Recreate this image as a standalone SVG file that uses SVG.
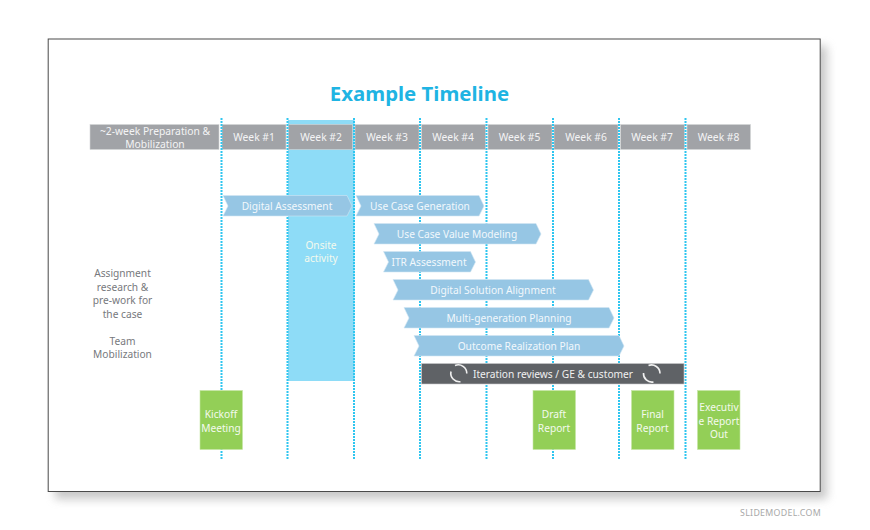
<svg xmlns="http://www.w3.org/2000/svg" width="870" height="530" viewBox="0 0 870 530">
<style>
text{font-family:"Noto Sans","Open Sans","Liberation Sans",sans-serif;text-anchor:middle}
.hd{fill:#a1a3a7;stroke:#d4d5d7;stroke-width:.6}
.hdt{fill:#f4f4f5;font-size:10.3px}
.ar{fill:#96c6e4;stroke:#d2e6f4;stroke-width:.6}
.art{fill:#f2f8fc;font-size:10.2px}
.gr{fill:#93cf57;stroke:#c6e6a6;stroke-width:.6}
.grt{fill:#f4faee;font-size:10.2px}
.side{fill:#77797d;font-size:10.2px}
.dot{stroke:#2fc6f0;stroke-width:2;stroke-dasharray:2 1}
.cyc{fill:none;stroke:#f0f0f0;stroke-width:1.6}
</style>
<defs><filter id="blur" x="-10%" y="-10%" width="120%" height="120%"><feGaussianBlur stdDeviation="5"/></filter></defs>
<rect width="870" height="530" fill="#fff"/>
<rect x="55" y="46" width="772" height="453" fill="#9a9a9a" opacity=".55" filter="url(#blur)"/>
<rect id="frame" x="48.200" y="39" width="772" height="452.500" fill="#fff" stroke="#4a4a4a" stroke-width="1"/>
<text id="title" x="419.500" y="101" font-size="20.400" font-weight="700" fill="#1fb4e3">Example Timeline</text>

<g id="onsite"><rect x="288" y="120" width="66.500" height="261" fill="#8edcf7"/><text class="grt" x="321" y="248.500">Onsite</text><text class="grt" x="321" y="262">activity</text></g>

<g id="headers">
<g id="h0"><rect class="hd" x="90" y="124.500" width="129" height="25"/><text class="hdt" x="155" y="134.500">~2-week Preparation &amp;</text><text class="hdt" x="155" y="147.500">Mobilization</text></g>
<g id="h1"><rect class="hd" x="222" y="124.500" width="64" height="25"/><text class="hdt" x="254" y="141">Week #1</text></g>
<g id="h2"><rect class="hd" x="288.500" y="124.500" width="64" height="25"/><text class="hdt" x="321" y="141">Week #2</text></g>
<g id="h3"><rect class="hd" x="355" y="124.500" width="64" height="25"/><text class="hdt" x="387" y="141">Week #3</text></g>
<g id="h4"><rect class="hd" x="421.500" y="124.500" width="64" height="25"/><text class="hdt" x="453" y="141">Week #4</text></g>
<g id="h5"><rect class="hd" x="488" y="124.500" width="64" height="25"/><text class="hdt" x="519.500" y="141">Week #5</text></g>
<g id="h6"><rect class="hd" x="554" y="124.500" width="64" height="25"/><text class="hdt" x="586" y="141">Week #6</text></g>
<g id="h7"><rect class="hd" x="620.500" y="124.500" width="64" height="25"/><text class="hdt" x="652" y="141">Week #7</text></g>
<g id="h8"><rect class="hd" x="687" y="124.500" width="63.500" height="25"/><text class="hdt" x="718.500" y="141">Week #8</text></g>
</g>

<g id="connectors">
<path class="dot" d="M221.500 118V459M287.500 118V459M354 118V459M420 118V459M486.500 118V459M553 118V459M619 118V459M685.500 118V459"/>
</g>

<g id="bars">
<g id="b1"><path class="ar" d="M223 195.500H347L352 206L347 216H223L228 206Z"/><text class="art" x="287" y="210">Digital Assessment</text></g>
<g id="b2"><path class="ar" d="M356 195.500H479L484 206L479 216H356L361 206Z"/><text class="art" x="420" y="210">Use Case Generation</text></g>
<g id="b3"><path class="ar" d="M374 223.500H536L541 234L536 244H374L379 234Z"/><text class="art" x="457" y="238">Use Case Value Modeling</text></g>
<g id="b4"><path class="ar" d="M383.500 251.500H470.500L475.500 262L470.500 272H383.500L388.500 262Z"/><text class="art" x="429" y="266">ITR Assessment</text></g>
<g id="b5"><path class="ar" d="M393 279.500H588.500L593.500 290L588.500 300H393L398 290Z"/><text class="art" x="493" y="294">Digital Solution Alignment</text></g>
<g id="b6"><path class="ar" d="M404 307.500H609L614 318L609 328H404L409 318Z"/><text class="art" x="509" y="322">Multi-generation Planning</text></g>
<g id="b7"><path class="ar" d="M414 335.500H619L624 346L619 356H414L419 346Z"/><text class="art" x="519" y="350">Outcome Realization Plan</text></g>
<g id="b8"><rect x="421.500" y="363.500" width="262.500" height="20.500" fill="#5f6266" stroke="#c9cacc" stroke-width=".6"/><text x="553" y="378" font-size="10.200" fill="#f0f0f0">Iteration reviews / GE &amp; customer</text>
<path class="cyc" d="M455 365.500A8.500 8.500 0 0 1 466.800 373.500M451 371.500A8.500 8.500 0 0 0 460.500 381.700"/>
<path class="cyc" d="M648.500 365.500A8.500 8.500 0 0 1 660 373.500M643.500 373A8.500 8.500 0 0 0 653.500 382"/></g>
</g>

<g id="side">
<text class="side" x="122.500" y="277">Assignment</text><text class="side" x="122.500" y="290.500">research &amp;</text><text class="side" x="122.500" y="304">pre-work for</text><text class="side" x="122.500" y="317.500">the case</text>
<text class="side" x="122.500" y="344.500">Team</text><text class="side" x="122.500" y="358">Mobilization</text>
</g>

<g id="milestones">
<g id="m1"><rect class="gr" x="200" y="390.500" width="42.500" height="59"/><text class="grt" x="221" y="417.500">Kickoff</text><text class="grt" x="221" y="431.500">Meeting</text></g>
<g id="m2"><rect class="gr" x="533" y="390.500" width="42.500" height="59"/><text class="grt" x="554" y="417.500">Draft</text><text class="grt" x="554" y="431.500">Report</text></g>
<g id="m3"><rect class="gr" x="631.500" y="390.500" width="42.500" height="59"/><text class="grt" x="652.500" y="417.500">Final</text><text class="grt" x="652.500" y="431.500">Report</text></g>
<g id="m4"><rect class="gr" x="697.500" y="390.500" width="42.500" height="59"/><text class="grt" x="719" y="411">Executiv</text><text class="grt" x="719" y="424.500">e Report</text><text class="grt" x="719" y="438">Out</text></g>
</g>
<text id="credit" x="780.500" y="516" font-size="8.800" letter-spacing=".3" fill="#a8a8a8">SLIDEMODEL.COM</text>
</svg>
